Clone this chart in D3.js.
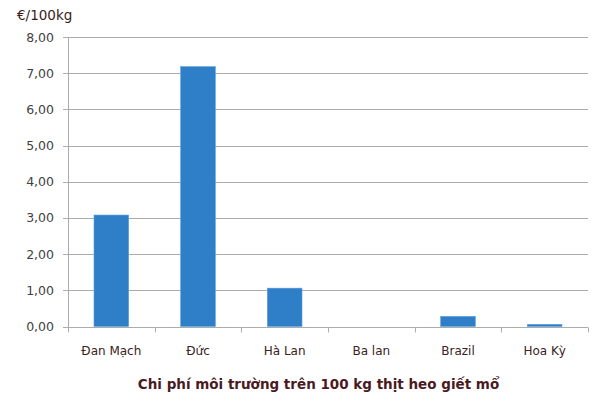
<!DOCTYPE html>
<html><head><meta charset="utf-8">
<script src="https://cdn.jsdelivr.net/npm/d3@7"></script>
<style>body{margin:0;background:#fff}svg{display:block}</style>
</head><body>
<script>
const categories = ["Đan Mạch","Đức","Hà Lan","Ba lan","Brazil","Hoa Kỳ"];
const values = [3.08, 7.18, 1.06, 0, 0.28, 0.06];
const yTicks = [0,1,2,3,4,5,6,7,8];
const unitLabel = "€/100kg";
const title = "Chi phí môi trường trên 100 kg thịt heo giết mổ";

const W=600,H=408;
const m={left:68,right:12,top:37,bottom:81};
const svg=d3.select("body").append("svg").attr("width",W).attr("height",H);
const x=d3.scaleBand().domain(categories).range([m.left,W-m.right]).paddingInner(0.6).paddingOuter(0.3);
const y=d3.scaleLinear().domain([0,8]).range([H-m.bottom-0.5,m.top]);
const font="DejaVu Sans, Verdana, sans-serif";

svg.append("g").selectAll("line").data(yTicks).join("line")
  .attr("x1",m.left-5).attr("x2",W-m.right)
  .attr("y1",d=>Math.round(y(d))+0.5).attr("y2",d=>Math.round(y(d))+0.5)
  .attr("stroke","#acacac").attr("stroke-width",1);
svg.append("g").selectAll("text").data(yTicks).join("text")
  .attr("x",m.left-14).attr("y",d=>y(d)).attr("dy","0.36em")
  .attr("text-anchor","end").attr("font-family",font).attr("font-size",12.5)
  .attr("fill","#3f3f3f").text(d=>d3.format(".2f")(d).replace(".",","));
svg.append("line").attr("x1",m.left+0.5).attr("x2",m.left+0.5)
  .attr("y1",m.top).attr("y2",Math.round(y(0))+0.5).attr("stroke","#acacac");
svg.append("g").selectAll("rect").data(values).join("rect")
  .attr("x",(d,i)=>x(categories[i])).attr("width",x.bandwidth())
  .attr("y",d=>y(d)).attr("height",d=>y(0)-y(d))
  .attr("fill","#2e7ec8").attr("stroke","#5a9fdc").attr("stroke-width",0.6);
const step=x.step();
const ax=svg.append("g").attr("transform",`translate(0,${Math.round(y(0))+0.5})`);
ax.append("line").attr("x1",m.left).attr("x2",W-m.right).attr("stroke","#acacac");
ax.selectAll(".tk").data(d3.range(categories.length+1)).join("line")
  .attr("x1",i=>Math.round(m.left+i*step)+0.5).attr("x2",i=>Math.round(m.left+i*step)+0.5)
  .attr("y1",0).attr("y2",5).attr("stroke","#acacac");
ax.selectAll("text").data(categories).join("text")
  .attr("x",d=>x(d)+x.bandwidth()/2).attr("y",27)
  .attr("text-anchor","middle").attr("font-family",font).attr("font-size",12)
  .attr("fill","#3a2222").text(d=>d);
svg.append("text").attr("x",17).attr("y",20).attr("font-family",font).attr("font-size",13.5)
  .attr("fill","#3a1c1c").text(unitLabel);
svg.append("text").attr("x",318.5).attr("y",389).attr("text-anchor","middle")
  .attr("font-family",font).attr("font-size",13.5).attr("font-weight","bold")
  .attr("fill","#4a1a1f").text(title);
</script>
</body></html>
